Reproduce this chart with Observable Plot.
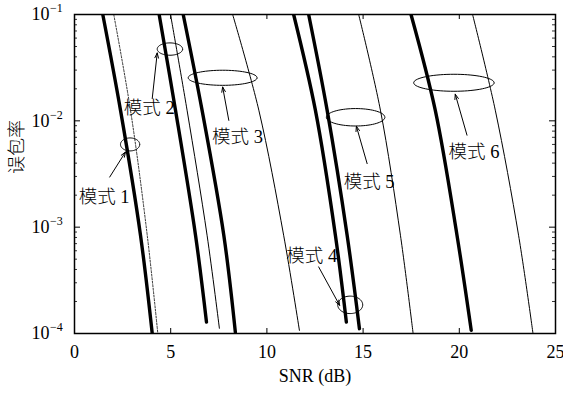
<!DOCTYPE html>
<html><head><meta charset="utf-8">
<script src="https://cdn.jsdelivr.net/npm/d3@7"></script>
<script src="https://cdn.jsdelivr.net/npm/@observablehq/plot@0.6"></script>
<style>body{margin:0;background:#fff} svg text{font-family: "Liberation Serif", "DejaVu Serif", "Noto Sans CJK SC", serif !important;}</style>
</head><body><div id="chart"></div>
<script>
// ---- axis ticks / labels ----
const xTicks = [0, 5, 10, 15, 20, 25];
const yTicks = [1e-1, 1e-2, 1e-3, 1e-4];
const yExponents = ["−1", "−2", "−3", "−4"];
const xLabel = "SNR (dB)";
const yLabel = "误包率";

// ---- curves: [SNR (dB), packet error rate] ----
const mode1Thick  = [[1.47, 1e-1], [2.39, 1.26e-2], [3.43, 8.4e-4], [4.04, 1e-4]];
const mode1Dashed = [[2.04, 1e-1], [2.91, 1.26e-2], [3.78, 8.4e-4], [4.33, 1e-4]];
const mode2Thick  = [[4.40, 1e-1], [5.25, 1.26e-2], [6.29, 8.4e-4], [6.86, 1.28e-4]];
const mode2Thin   = [[4.99, 1e-1], [5.85, 1.26e-2], [6.89, 8.4e-4], [7.53, 1.12e-4]];
const mode3Thick  = [[5.65, 1e-1], [6.63, 1.26e-2], [7.76, 8.4e-4], [8.36, 1.03e-4]];
const mode3Thin   = [[8.22, 1e-1], [9.58, 1.26e-2], [10.87, 8.4e-4], [11.69, 1.07e-4]];
const mode4Thick  = [[11.39, 1e-1], [12.52, 1.26e-2], [13.56, 8.4e-4], [14.13, 1.28e-4]];
const mode5Thick  = [[12.17, 1e-1], [13.13, 1.26e-2], [14.17, 8.4e-4], [14.81, 1.11e-4]];
const mode5Thin   = [[14.77, 1e-1], [15.90, 1.26e-2], [16.94, 8.4e-4], [17.60, 1e-4]];
const mode6Thick  = [[17.49, 1e-1], [18.75, 1.26e-2], [19.88, 8.4e-4], [20.62, 1.07e-4]];
const mode6Thin   = [[20.69, 1e-1], [21.87, 1.26e-2], [23.08, 8.4e-4], [23.83, 1e-4]];

// ---- annotations ----
const labelNames = ["模式 1", "模式 2", "模式 3", "模式 4", "模式 5", "模式 6"];
const labelX     = [0.22, 2.56, 7.15, 11.01, 13.99, 19.44];
const labelY     = [1.92e-3, 1.31e-2, 7.06e-3, 5.32e-4, 2.66e-3, 5.09e-3];
// ellipses: centre (SNR, PER), half-width (dB), half-height (decades)
const ellCx = [2.89, 4.96, 7.70, 14.33, 14.61, 19.72];
const ellCy = [6.0e-3, 4.73e-2, 2.54e-2, 1.86e-4, 1.08e-2, 2.28e-2];
const ellRx = [0.50, 0.66, 1.79, 0.65, 1.52, 2.09];
const ellRy = [0.061, 0.058, 0.071, 0.082, 0.082, 0.080];
// arrows: tail -> head
const arrX1 = [1.83, 4.04, 8.02, 12.69, 15.21, 20.40];
const arrY1 = [2.96e-3, 1.62e-2, 1.01e-2, 4.23e-4, 3.96e-3, 7.33e-3];
const arrX2 = [2.65, 4.30, 7.70, 13.78, 14.65, 19.79];
const arrY2 = [5.09e-3, 4.35e-2, 2.08e-2, 1.84e-4, 8.89e-3, 1.78e-2];

// ---- build tables ----
const toRows = (arr, id) => arr.map(([snr, per]) => ({snr, per, id}));
const thick = [mode1Thick, mode2Thick, mode3Thick, mode4Thick, mode5Thick, mode6Thick]
  .flatMap((c, i) => toRows(c, "k" + i));
const thin = [mode2Thin, mode3Thin, mode5Thin, mode6Thin].flatMap((c, i) => toRows(c, "t" + i));
const dashed = toRows(mode1Dashed, "d");

const ellipsePts = ellCx.flatMap((cx, i) =>
  d3.range(0, 72).map(k => {
    const t = (k / 72) * 2 * Math.PI;
    return {id: i, x: cx + ellRx[i] * Math.cos(t),
            y: Math.pow(10, Math.log10(ellCy[i]) + ellRy[i] * Math.sin(t))};
  }));
const arrows = arrX1.map((x1, i) => ({x1, y1: arrY1[i], x2: arrX2[i], y2: arrY2[i]}));
const labels = labelNames.map((t, i) => ({t, x: labelX[i], y: labelY[i]}));

const yMinor = [];
for (let e = -4; e <= -2; e++) for (let m = 2; m <= 9; m++) yMinor.push(m * Math.pow(10, e));

const W = 563, H = 394, mT = 14, mR = 8, mB = 61, mL = 74;
const fw = W - mL - mR, fh = H - mT - mB;
const serif = "Liberation Serif, DejaVu Serif, Noto Sans CJK SC, serif";

const chart = Plot.plot({
  width: W, height: H,
  marginTop: mT, marginRight: mR, marginBottom: mB, marginLeft: mL,
  x: {domain: [0, 25]},
  y: {type: "log", domain: [1e-4, 1e-1]},
  style: {fontFamily: serif, fontSize: "18px", color: "black", background: "white"},
  marks: [
    // curves
    Plot.line(thick, {x: "snr", y: "per", z: "id", stroke: "black", strokeWidth: 3.4,
      strokeLinecap: "round", curve: "catmull-rom", clip: true}),
    Plot.line(thin, {x: "snr", y: "per", z: "id", stroke: "black", strokeWidth: 1,
      curve: "catmull-rom", clip: true}),
    Plot.line(dashed, {x: "snr", y: "per", z: "id", stroke: "black", strokeWidth: 0.8,
      strokeDasharray: "2,1.5", curve: "catmull-rom", clip: true}),
    // annotations
    Plot.line(ellipsePts, {x: "x", y: "y", z: "id", stroke: "black", strokeWidth: 1,
      curve: "linear-closed"}),
    Plot.arrow(arrows, {x1: "x1", y1: "y1", x2: "x2", y2: "y2", stroke: "black",
      strokeWidth: 1, headLength: 8, headAngle: 40}),
    Plot.text(labels, {x: "x", y: "y", text: "t", textAnchor: "start", fontSize: 18.5,
      fontFamily: serif, fontWeight: 300, fill: "black"}),
    // ticks (inward, mirrored)
    Plot.tickX(xTicks, {x: d => d, stroke: "black", strokeWidth: 1, insetTop: fh - 5}),
    Plot.tickX(xTicks, {x: d => d, stroke: "black", strokeWidth: 1, insetBottom: fh - 5}),
    Plot.tickY(yTicks, {y: d => d, stroke: "black", strokeWidth: 1, insetRight: fw - 6}),
    Plot.tickY(yTicks, {y: d => d, stroke: "black", strokeWidth: 1, insetLeft: fw - 6}),
    Plot.tickY(yMinor, {y: d => d, stroke: "black", strokeWidth: 0.8, insetRight: fw - 3}),
    Plot.tickY(yMinor, {y: d => d, stroke: "black", strokeWidth: 0.8, insetLeft: fw - 3}),
    Plot.frame({stroke: "black", strokeWidth: 1.5}),
    // axes
    Plot.axisX({ticks: xTicks, tickSize: 0, tickPadding: 12, label: null,
      tickFormat: d => String(d), fontSize: 18}),
    Plot.axisY({ticks: yTicks, tickSize: 0, tickPadding: 25, label: null,
      tickFormat: () => "10", fontSize: 18}),
    Plot.text(yTicks, {y: d => d, frameAnchor: "left", text: (d, i) => yExponents[yTicks.indexOf(d)],
      textAnchor: "start", dx: -24.5, dy: -6, fontSize: 12, fill: "black"}),
    Plot.text([xLabel], {frameAnchor: "bottom", text: d => d, dy: 48, fontSize: 18, fill: "black"}),
    Plot.text([yLabel], {frameAnchor: "left", text: d => d, rotate: -90, dx: -57, fontSize: 18,
      fontWeight: 300, fill: "black"})
  ]
});
document.getElementById("chart").appendChild(chart);
</script>
</body></html>
